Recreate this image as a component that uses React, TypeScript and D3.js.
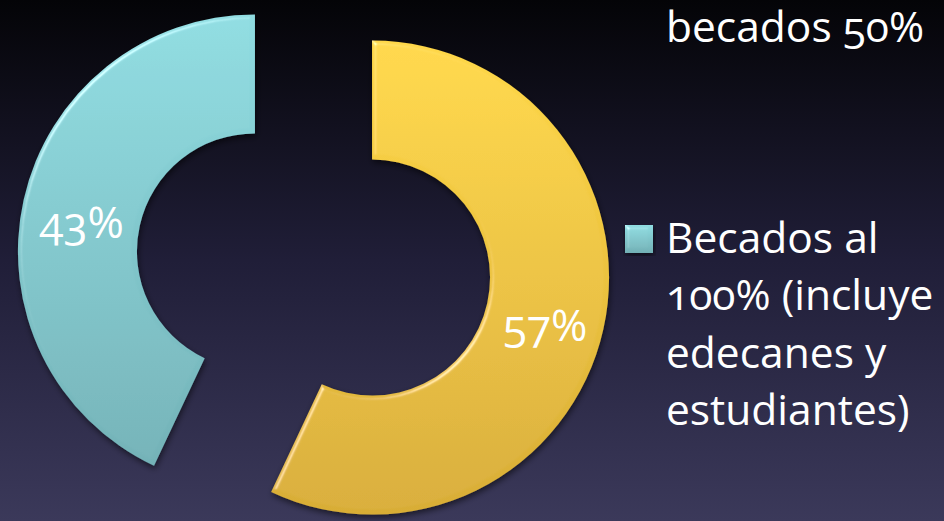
import React from "react";
import * as d3 from "d3";

const categories = ["No becados 50%", "Becados al 100% (incluye edecanes y estudiantes)"];
const values = [57, 43];
const pctLabels = ["57%", "43%"];
const colorsTop = ["#ffd848", "#8fdce1"];
const colorsBottom = ["#d8ad36", "#72b0b5"];
// visible legend lines (first entry is cut off at the top of the picture)
const legendLines = [["becados 50%"], ["Becados al", "100% (incluye", "edecanes y", "estudiantes)"]];

const W = 944;
const H = 521;

export default function App() {
  const cx = 313.5;
  const cy = 264.5;
  const outerR = 237;
  const innerR = 118;
  const explode = 60;
  const pie = d3.pie<number>().sort(null).startAngle(0).endAngle(2 * Math.PI);
  const arcs = pie(values);
  const arcGen = d3.arc<d3.PieArcDatum<number>>().innerRadius(innerR).outerRadius(outerR);
  const font = "'Open Sans', 'DejaVu Sans', sans-serif";
  const legendSize = 42.5;
  const labelSize = 44;

  return (
    <svg width={W} height={H} style={{ position: "fixed", left: 0, top: 0 }}>
      <defs>
        <linearGradient id="bg" x1="0" y1="0" x2="0" y2="1">
          <stop offset="0" stopColor="#040407" />
          <stop offset="0.5" stopColor="#201e38" />
          <stop offset="1" stopColor="#3b395a" />
        </linearGradient>
        {arcs.map((a, i) => (
          <linearGradient key={i} id={`g${i}`} gradientUnits="userSpaceOnUse" x1="0" y1={-outerR} x2="0" y2={outerR}>
            <stop offset="0" stopColor={colorsTop[i]} />
            <stop offset="1" stopColor={colorsBottom[i]} />
          </linearGradient>
        ))}
        <linearGradient id="gm" x1="0" y1="0" x2="0" y2="1">
          <stop offset="0" stopColor={colorsTop[1]} />
          <stop offset="1" stopColor={colorsBottom[1]} />
        </linearGradient>
        <filter id="bevel" x="-10%" y="-10%" width="120%" height="120%">
          <feGaussianBlur in="SourceAlpha" stdDeviation="2.2" result="blur" />
          <feSpecularLighting in="blur" surfaceScale="3" specularConstant="0.8" specularExponent="30" lightingColor="#ffffff" result="spec">
            <feDistantLight azimuth="225" elevation="35" />
          </feSpecularLighting>
          <feComposite in="spec" in2="SourceAlpha" operator="in" result="specIn" />
          <feComposite in="SourceGraphic" in2="specIn" operator="arithmetic" k1="0" k2="1" k3="0.5" k4="0" result="lit" />
          <feGaussianBlur in="SourceAlpha" stdDeviation="3" result="sb" />
          <feOffset in="sb" dx="1" dy="3" result="so" />
          <feFlood floodColor="#000" floodOpacity="0.55" />
          <feComposite in2="so" operator="in" result="shadow" />
          <feMerge>
            <feMergeNode in="shadow" />
            <feMergeNode in="lit" />
          </feMerge>
        </filter>
      </defs>
      <rect x={0} y={0} width={W} height={H} fill="url(#bg)" />
      {arcs.map((a, i) => {
        const mid = (a.startAngle + a.endAngle) / 2;
        const ox = cx + explode * Math.sin(mid);
        const oy = cy - explode * Math.cos(mid);
        const [lx, ly] = arcGen.centroid(a);
        return (
          <g key={i} transform={`translate(${ox},${oy})`}>
            <path d={arcGen(a) || ""} fill={`url(#g${i})`} filter="url(#bevel)" />
            <text
              x={lx}
              y={ly + 25}
              textAnchor="middle"
              fill="#ffffff"
              fontFamily={font}
              fontSize={labelSize}
              style={{ fontVariantNumeric: "oldstyle-nums" }}
            >
              {pctLabels[i]}
            </text>
          </g>
        );
      })}
      {/* legend */}
      <text x={666} y={42} fill="#ffffff" fontFamily={font} fontSize={legendSize} style={{ fontVariantNumeric: "oldstyle-nums" }}>
        {legendLines[0][0]}
      </text>
      <rect x={625} y={225} width={28} height={28} fill="url(#gm)" filter="url(#bevel)" />
      {legendLines[1].map((t, j) => (
        <text
          key={j}
          x={666}
          y={253 + j * 57.3}
          fill="#ffffff"
          fontFamily={font}
          fontSize={legendSize}
          style={{ fontVariantNumeric: "oldstyle-nums" }}
        >
          {t}
        </text>
      ))}
    </svg>
  );
}
